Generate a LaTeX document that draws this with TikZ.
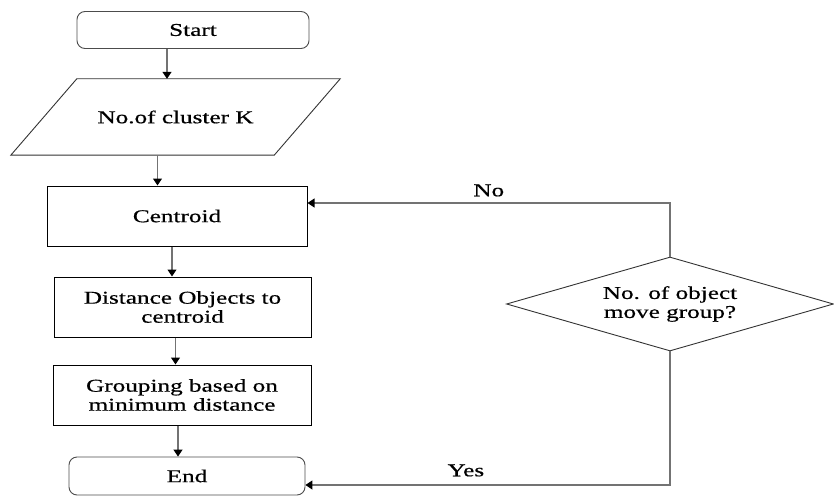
\documentclass[tikz,border=0pt]{standalone}
\usepackage{fontspec}
\setmainfont{Liberation Serif}[FakeStretch=1.4,FakeBold=0.6]
\usepackage{tikz}
\usetikzlibrary{shapes.geometric,arrows.meta}
\tikzset{
  fcnode/.style = {align=center, inner sep=0pt, text centered, font=\fontsize{18}{19}\selectfont},
  term/.style = {fcnode, rectangle, rounded corners=8pt, draw=black!70, line width=0.9pt},
  proc/.style = {fcnode, rectangle, draw=black, line width=1pt},
  inout/.style = {fcnode, rectangle, minimum width=263pt, minimum height=76pt},
  slant/.style = {draw=black!80, line width=0.9pt},
  decide/.style = {fcnode, diamond, aspect=3.48, draw=black!80, line width=0.9pt, minimum width=327pt, minimum height=94pt},
  flow/.style = {draw=black!55, line width=1.1pt, -{Triangle[black,length=7pt,width=9pt]}},
  yn/.style = {font=\fontsize{18}{19}\selectfont, inner sep=0pt},
}
\begin{document}
\begin{tikzpicture}[x=1pt, y=-1pt]
\useasboundingbox (0,0) rectangle (834,497);

\node [term, minimum width=232pt, minimum height=37pt] (start) at (193,30) {Start};
\node [inout] (para) at (175.5,117) {No.of cluster K};
\draw [slant] ([xshift=33pt]para.north west) -- ([xshift=33pt]para.north east)
  -- ([xshift=-33pt]para.south east) -- ([xshift=-33pt]para.south west) -- cycle;
\node [proc, minimum width=260pt, minimum height=60pt] (cen) at (177,216) {Centroid};
\node [proc, minimum width=257pt, minimum height=60pt] (dist) at (182.5,307) {Distance Objects to\\centroid};
\node [proc, minimum width=258pt, minimum height=60pt] (grp) at (182,395) {Grouping based on\\minimum distance};
\node [term, minimum width=236pt, minimum height=38pt] (end) at (187,476) {End};
\node [decide] (dia) at (670,304) {No. of object\\move group?};

\draw [flow] ([xshift=-26pt]start.south) -- ([xshift=-26pt]start.south |- para.north);
\draw [flow] ([xshift=-18pt]para.south) -- ([xshift=-18pt]para.south |- cen.north);
\draw [flow] ([xshift=-5pt]cen.south) -- ([xshift=-5pt]cen.south |- dist.north);
\draw [flow] ([xshift=-7pt]dist.south) -- ([xshift=-7pt]dist.south |- grp.north);
\draw [flow] ([xshift=-4pt]grp.south) -- ([xshift=-4pt]grp.south |- end.north);

\draw [flow] (dia.north) |- ([yshift=13pt]cen.east) node [yn, above=6pt, pos=0.75] {No};
\draw [flow] (dia.south) |- ([yshift=-9pt]end.east) node [yn, above=8pt, pos=0.78] {Yes};
\end{tikzpicture}
\end{document}
